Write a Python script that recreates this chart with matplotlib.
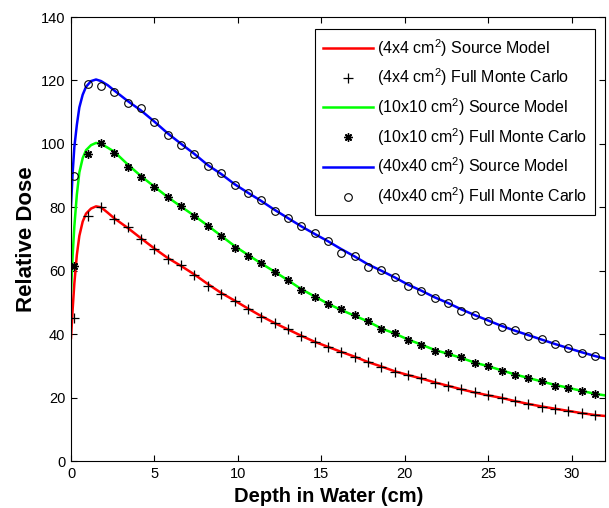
import numpy as np
import matplotlib
matplotlib.use("Agg")
import matplotlib.pyplot as plt

plt.rcParams['font.family'] = ['Liberation Sans', 'DejaVu Sans']
plt.rcParams['mathtext.fontset'] = 'custom'
plt.rcParams['mathtext.rm'] = 'Liberation Sans'
plt.rcParams['mathtext.it'] = 'Liberation Sans:italic'

# Profundidades de los puntos Monte Carlo (cm)
mc_depth = [0.2, 1.0, 1.8, 2.6, 3.4, 4.2, 5.0, 5.8, 6.6, 7.4,
            8.2, 9.0, 9.8, 10.6, 11.4, 12.2, 13.0, 13.8, 14.6, 15.4,
            16.2, 17.0, 17.8, 18.6, 19.4, 20.2, 21.0, 21.8, 22.6, 23.4,
            24.2, 25.0, 25.8, 26.6, 27.4, 28.2, 29.0, 29.8, 30.6, 31.4]

mc_4x4 = [45.0, 77.4, 80.2, 76.2, 73.9, 69.9, 66.8, 63.7, 61.8, 58.7,
          55.3, 52.6, 50.6, 48.0, 45.5, 43.4, 41.6, 39.4, 37.6, 36.0,
          34.5, 32.9, 31.1, 29.7, 28.2, 27.1, 26.2, 24.7, 23.7, 22.7,
          21.7, 20.8, 20.0, 18.9, 18.0, 17.1, 16.4, 15.8, 15.2, 14.5]

mc_10x10 = [61.6, 96.8, 100.2, 97.0, 92.6, 89.5, 86.5, 83.4, 80.4, 77.4,
            74.2, 71.1, 67.3, 64.8, 62.5, 59.5, 57.1, 53.9, 51.8, 49.5,
            47.8, 46.0, 44.1, 41.6, 40.3, 38.2, 36.7, 34.8, 34.0, 32.7,
            30.8, 30.0, 28.5, 27.1, 26.1, 25.2, 23.7, 23.1, 22.2, 21.0]

mc_40x40 = [89.9, 118.8, 118.4, 116.2, 112.8, 111.2, 107.0, 102.8, 99.7, 96.7,
            93.0, 90.9, 87.0, 84.6, 82.3, 78.9, 76.7, 74.1, 71.8, 69.5,
            65.7, 64.7, 61.3, 60.2, 58.1, 55.2, 53.6, 51.3, 49.9, 47.3,
            46.0, 44.1, 42.4, 41.3, 39.5, 38.4, 36.8, 35.5, 34.2, 33.1]

# Curvas del modelo de fuente
model_depth = [0.0, 0.1, 0.2, 0.35, 0.5, 0.7, 0.9, 1.2, 1.5, 1.8, 2.2,
               2.6, 3.4, 4.2, 5.0, 5.8, 6.6, 7.4, 8.2, 9.0, 9.8,
               10.6, 11.4, 12.2, 13.0, 13.8, 14.6, 15.4, 16.2, 17.0, 17.8,
               18.6, 19.4, 20.2, 21.0, 21.8, 22.6, 23.4, 24.2, 25.0, 25.8,
               26.6, 27.4, 28.2, 29.0, 29.8, 30.6, 31.4, 32.0]

model_4x4 = [38.8, 48.0, 56.0, 65.0, 71.0, 75.5, 78.0, 79.6, 80.3, 80.0, 78.3,
             76.5, 73.5, 70.2, 67.0, 64.0, 61.5, 58.8, 55.8, 53.0, 50.6,
             48.1, 45.7, 43.5, 41.5, 39.5, 37.6, 36.0, 34.4, 32.9, 31.2,
             29.8, 28.3, 27.1, 26.0, 24.8, 23.7, 22.6, 21.6, 20.7, 19.9,
             18.9, 18.0, 17.2, 16.5, 15.8, 15.1, 14.5, 14.2]

model_10x10 = [53.5, 65.0, 74.0, 84.0, 91.0, 95.5, 98.0, 99.6, 100.3, 100.0, 98.8,
               97.5, 93.5, 89.8, 86.5, 83.2, 80.2, 77.3, 74.2, 71.0, 67.8,
               65.0, 62.3, 59.7, 57.0, 54.2, 51.9, 49.6, 47.6, 45.8, 44.0,
               41.8, 40.2, 38.3, 36.7, 35.0, 33.8, 32.5, 31.0, 29.9, 28.6,
               27.3, 26.2, 25.1, 24.0, 23.1, 22.1, 21.2, 20.7]

model_40x40 = [80.5, 91.0, 99.0, 106.0, 111.5, 115.5, 118.0, 119.8, 120.3, 119.8, 118.5,
               116.8, 113.5, 110.5, 107.0, 103.3, 100.0, 96.8, 93.3, 90.5, 87.3,
               84.6, 82.0, 79.2, 76.6, 74.0, 71.6, 69.3, 66.8, 64.5, 62.0,
               60.0, 57.9, 55.6, 53.7, 51.6, 49.8, 47.8, 46.0, 44.3, 42.6,
               41.1, 39.7, 38.3, 36.9, 35.6, 34.3, 33.1, 32.3]

fig = plt.figure(figsize=(6.09, 5.08), dpi=100)
ax = fig.add_axes([0.1166, 0.0925, 0.8768, 0.874])

ax.plot(model_depth, model_4x4, color='#ff0000', lw=1.8, label='(4x4 cm$^2$) Source Model')
ax.plot(mc_depth, mc_4x4, ls='none', marker='+', ms=6.5, mew=0.9, color='k',
        label='(4x4 cm$^2$) Full Monte Carlo')
ax.plot(model_depth, model_10x10, color='#00ff00', lw=1.8, label='(10x10 cm$^2$) Source Model')
ax.plot(mc_depth, mc_10x10, ls='none', marker=(8, 2, 0), ms=6, mew=1.0, color='k',
        label='(10x10 cm$^2$) Full Monte Carlo')
ax.plot(model_depth, model_40x40, color='#0000ff', lw=1.8, label='(40x40 cm$^2$) Source Model')
ax.plot(mc_depth, mc_40x40, ls='none', marker='o', ms=5.5, mew=0.8, mfc='none', mec='k',
        label='(40x40 cm$^2$) Full Monte Carlo')

ax.set_xlim(0, 32)
ax.set_ylim(0, 140)
ax.set_xticks([0, 5, 10, 15, 20, 25, 30])
ax.set_yticks([0, 20, 40, 60, 80, 100, 120, 140])
ax.tick_params(direction='in', top=True, right=True, length=4, width=0.8, labelsize=10.5, pad=4)
for s in ax.spines.values():
    s.set_linewidth(0.8)

ax.set_xlabel('Depth in Water (cm)', fontsize=14.5, fontweight='bold', labelpad=0)
ax.xaxis.set_label_coords(0.483, -0.058, transform=ax.transAxes)
ax.xaxis.label.set_va('top')
ax.set_ylabel('Relative Dose', fontsize=16, fontweight='bold', labelpad=3)

leg = ax.legend(loc='upper right', bbox_to_anchor=(0.981, 0.973), borderaxespad=0,
                fontsize=11.5, fancybox=False, framealpha=1, edgecolor='k',
                handlelength=3.1, handletextpad=0.25, labelspacing=0.5,
                borderpad=0.5, numpoints=1)
leg.get_frame().set_linewidth(0.8)

plt.savefig('out.png', dpi=100)
